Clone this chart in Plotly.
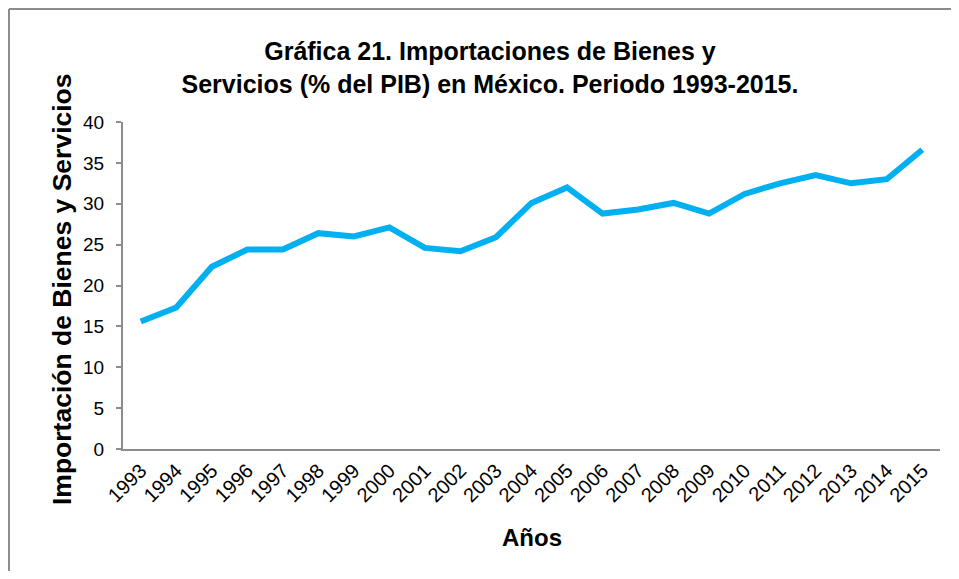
import plotly.graph_objects as go

years = [str(y) for y in range(1993, 2016)]
imports_pct = [15.6, 17.3, 22.3, 24.4, 24.4, 26.4, 26.0, 27.1, 24.6, 24.2, 25.9,
               30.1, 32.0, 28.8, 29.3, 30.1, 28.8, 31.2, 32.5, 33.5, 32.5, 33.0, 36.6]
y_ticks = [0, 5, 10, 15, 20, 25, 30, 35, 40]

title_text = "<b>Gráfica 21. Importaciones de Bienes y<br>Servicios (% del PIB) en México. Periodo 1993-2015.</b>"
y_title = "<b>Importación de Bienes y Servicios</b>"
x_title = "<b>Años</b>"

fig = go.Figure()
fig.add_trace(go.Scatter(
    x=years, y=imports_pct, mode="lines",
    line=dict(color="#00B0F0", width=6),
    hoverinfo="x+y", showlegend=False,
))

# page has an 8px body margin; figure sized to fit the window without scrollbars
W, H = 943, 563
ml, mr, mt, mb = 115, 11, 114, 122
pw, ph = W - ml - mr, H - mt - mb

border = dict(color="#8c8c8c", width=2)

fig.update_layout(
    width=W, height=H,
    margin=dict(l=ml, r=mr, t=mt, b=mb),
    paper_bgcolor="white", plot_bgcolor="white",
    font=dict(family="Liberation Sans, Arial, sans-serif", color="black", size=19),
    title=dict(text=title_text, x=482 / W, xanchor="center", y=1 - 52 / H, yanchor="middle",
               font=dict(size=25, color="black")),
    xaxis=dict(
        type="category", range=[-0.5, 22.5],
        showline=True, linecolor="#8c8c8c", linewidth=2,
        ticks="", tickangle=-45, tickfont=dict(size=20),
        showgrid=False, zeroline=False,
    ),
    yaxis=dict(
        range=[0, 40], tickvals=y_ticks,
        showline=True, linecolor="#8c8c8c", linewidth=2,
        ticks="outside", ticklen=5, tickwidth=1.5, tickcolor="#8c8c8c",
        ticklabelstandoff=8,
        tickfont=dict(size=19),
        showgrid=False, zeroline=False,
    ),
    annotations=[
        dict(text=x_title, xref="paper", yref="paper", x=0.5, y=-(529 - (H - mb)) / ph,
             xanchor="center", yanchor="middle", showarrow=False, font=dict(size=24)),
        dict(text=y_title, xref="paper", yref="paper", x=(54 - ml) / pw, y=1 - (281 - mt) / ph,
             xanchor="center", yanchor="middle", textangle=-90, showarrow=False,
             font=dict(size=26.5)),
    ],
    shapes=[
        dict(type="line", xref="paper", yref="paper",
             x0=(1 - ml) / pw, x1=(W - ml) / pw, y0=1 + (mt - 1) / ph, y1=1 + (mt - 1) / ph,
             line=border, layer="below"),
        dict(type="line", xref="paper", yref="paper",
             x0=(1 - ml) / pw, x1=(1 - ml) / pw, y0=-mb / ph, y1=1 + (mt - 1) / ph,
             line=border, layer="below"),
    ],
)

fig.write_html("out.html")
